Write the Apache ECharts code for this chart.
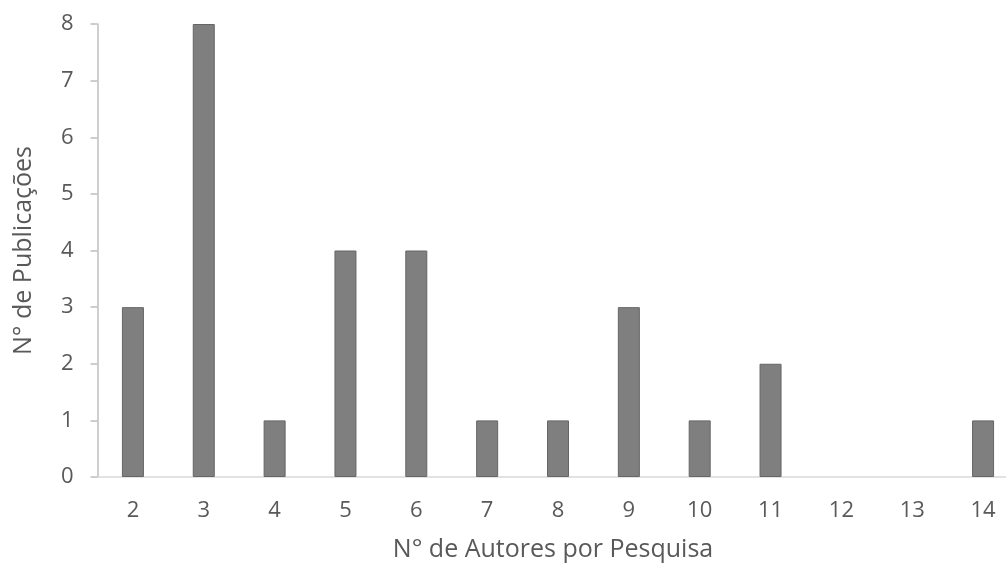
<!DOCTYPE html>
<html>
<head>
<meta charset="utf-8">
<script src="https://cdn.jsdelivr.net/npm/echarts@6/dist/echarts.min.js"></script>
<style>html,body{margin:0;padding:0;background:#fff;}#c{width:1006px;height:575px;}</style>
</head>
<body>
<div id="c"></div>
<script>
const categories = ['2','3','4','5','6','7','8','9','10','11','12','13','14'];
const publicacoes = [3, 8, 1, 4, 4, 1, 1, 3, 1, 2, 0, 0, 1];
const yTicks = [0, 1, 2, 3, 4, 5, 6, 7, 8];

const chart = echarts.init(document.getElementById('c'));
const font = '"Open Sans", "Noto Sans", sans-serif';
chart.setOption({
  animation: false,
  grid: { left: 97.5, width: 921, top: 24, bottom: 98, containLabel: false, outerBoundsMode: 'none' },
  xAxis: {
    type: 'category',
    data: categories,
    name: 'N° de Autores por Pesquisa',
    nameLocation: 'middle',
    nameGap: 60,
    nameTextStyle: { fontSize: 25, color: '#595959', fontFamily: font, padding: [0, 10, 0, 0] },
    axisLine: { show: true, lineStyle: { color: '#d9d9d9', width: 1.5 } },
    axisTick: { show: false },
    axisLabel: { fontSize: 22, color: '#595959', fontFamily: font, margin: 23 },
    splitLine: { show: false }
  },
  yAxis: {
    type: 'value',
    min: yTicks[0],
    max: yTicks[yTicks.length - 1],
    interval: 1,
    name: 'N° de Publicações',
    nameLocation: 'middle',
    nameGap: 61,
    nameTextStyle: { fontSize: 25, color: '#595959', fontFamily: font },
    axisLine: { show: true, lineStyle: { color: '#bfbfbf', width: 1.5 } },
    axisTick: { show: true, length: 7, lineStyle: { color: '#bfbfbf', width: 1.5 } },
    axisLabel: { fontSize: 22, color: '#595959', fontFamily: font, margin: 24 },
    splitLine: { show: false }
  },
  series: [{
    type: 'bar',
    data: publicacoes.map(v => v === 0 ? '-' : v),
    barWidth: 22,
    itemStyle: { color: '#7f7f7f', borderColor: '#666666', borderWidth: 1 }
  }]
});
</script>
</body>
</html>
